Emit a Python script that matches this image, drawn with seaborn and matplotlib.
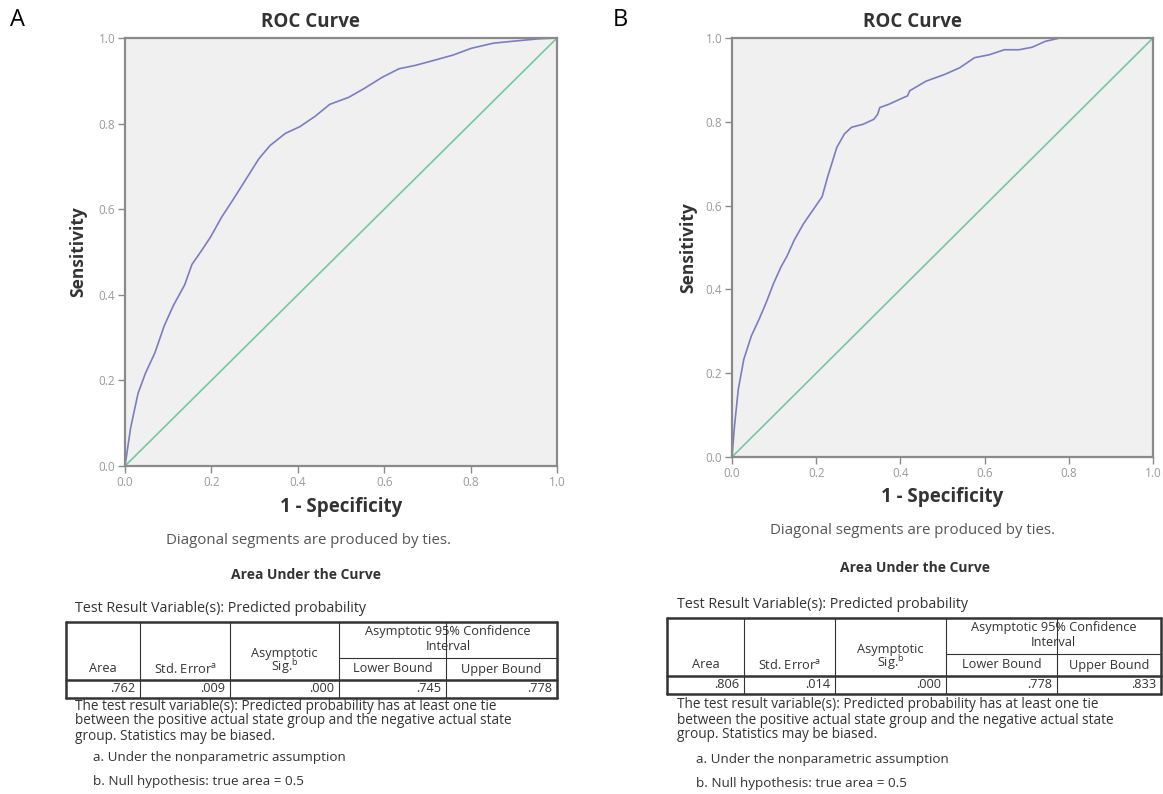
import matplotlib
matplotlib.use("Agg")
import matplotlib.pyplot as plt
import seaborn as sns
import pandas as pd

# %%
# ROC curve points (1 - specificity, sensitivity)
fpr_a = [0.0, 0.013, 0.03, 0.047, 0.069, 0.091, 0.112, 0.138, 0.155, 0.177, 0.198,
         0.224, 0.25, 0.28, 0.31, 0.336, 0.371, 0.405, 0.44, 0.474, 0.517, 0.552,
         0.595, 0.634, 0.672, 0.716, 0.759, 0.802, 0.853, 0.914, 0.957, 1.0]
tpr_a = [0.0, 0.089, 0.169, 0.216, 0.264, 0.328, 0.375, 0.423, 0.471, 0.503, 0.535,
         0.582, 0.622, 0.67, 0.718, 0.749, 0.777, 0.793, 0.817, 0.845, 0.861, 0.881,
         0.908, 0.928, 0.936, 0.948, 0.96, 0.976, 0.988, 0.994, 0.998, 1.0]

fpr_b = [0.0, 0.006, 0.015, 0.028, 0.046, 0.064, 0.081, 0.099, 0.117, 0.13, 0.148,
         0.17, 0.192, 0.214, 0.227, 0.249, 0.267, 0.284, 0.311, 0.337, 0.346, 0.351,
         0.373, 0.399, 0.417, 0.422, 0.461, 0.505, 0.541, 0.576, 0.611, 0.647,
         0.682, 0.713, 0.744, 0.779, 1.0]
tpr_b = [0.0, 0.075, 0.162, 0.233, 0.289, 0.328, 0.368, 0.415, 0.455, 0.478, 0.518,
         0.557, 0.589, 0.621, 0.668, 0.739, 0.771, 0.787, 0.794, 0.806, 0.818, 0.834,
         0.842, 0.854, 0.862, 0.874, 0.897, 0.913, 0.929, 0.953, 0.96, 0.972,
         0.972, 0.978, 0.992, 1.0, 1.0]

ref_line = [0.0, 1.0]

panel_labels = ["A", "B"]

# Area Under the Curve table values
auc_area = [".762", ".806"]
auc_std_err = [".009", ".014"]
auc_sig = [".000", ".000"]
auc_lower = [".745", ".778"]
auc_upper = [".778", ".833"]

tick_values = [0.0, 0.2, 0.4, 0.6, 0.8, 1.0]
tick_labels = ["0.0", "0.2", "0.4", "0.6", "0.8", "1.0"]

# %%
sns.set_theme(style="white")
plt.rcParams["font.family"] = ["Open Sans", "DejaVu Sans"]
plt.rcParams["mathtext.fontset"] = "custom"
plt.rcParams["mathtext.rm"] = "Open Sans"

W, H = 1163, 794
fig = plt.figure(figsize=(W / 100, H / 100), dpi=100)

curve_color = "#7b7dc2"
diag_color = "#72c9a0"
frame_color = "#8a8a8a"
text_color = "#333333"

# axes boxes in pixels: left, top, right, bottom
boxes = [(125, 38, 557, 466), (732, 38, 1153, 457)]
curves = [(fpr_a, tpr_a), (fpr_b, tpr_b)]

for (l, t, r, b), (fx, fy) in zip(boxes, curves):
    ax = fig.add_axes([l / W, 1 - b / H, (r - l) / W, (b - t) / H])
    ax.set_facecolor("#f0f0f0")
    df = pd.DataFrame({"fpr": fx, "tpr": fy})
    sns.lineplot(data=df, x="fpr", y="tpr", ax=ax, color=curve_color,
                 linewidth=1.2, estimator=None, sort=False)
    sns.lineplot(x=ref_line, y=ref_line, ax=ax, color=diag_color, linewidth=1.2)
    ax.set_xlim(0, 1)
    ax.set_ylim(0, 1)
    ax.set_xticks(tick_values)
    ax.set_yticks(tick_values)
    ax.set_xticklabels(tick_labels)
    ax.set_yticklabels(tick_labels)
    ax.tick_params(direction="out", length=5, width=1, color=frame_color,
                   labelsize=8.5, labelcolor="#9a9a9a", pad=2,
                   bottom=True, left=True)
    for s in ax.spines.values():
        s.set_color(frame_color)
        s.set_linewidth(1.6)
    ax.set_xlabel("")
    ax.set_ylabel("")

# overlay in pixel coordinates for all the text and the tables
ov = fig.add_axes([0, 0, 1, 1])
ov.set_xlim(0, W)
ov.set_ylim(H, 0)
ov.axis("off")
ov.patch.set_alpha(0)

# per-panel layout: axes box, table columns, table top, text anchors
layouts = [
    dict(box=boxes[0], cols=[66, 140, 230, 339, 446, 557], top=622,
         title_x=310, xlab_y=507, diag=(309, 540), aucti=(306, 575),
         test=(75, 608), foot_y=706, note_x=93, note_y=758, ylab_x=78,
         letter=(18, 20)),
    dict(box=boxes[1], cols=[667, 744, 835, 946, 1057, 1161], top=618,
         title_x=912, xlab_y=497, diag=(913, 530), aucti=(915, 568),
         test=(677, 604), foot_y=705, note_x=696, note_y=759, ylab_x=688,
         letter=(620, 20)),
]

for i, lay in enumerate(layouts):
    l, t, r, b = lay["box"]
    cx = (l + r) / 2

    ov.text(lay["letter"][0], lay["letter"][1], panel_labels[i], fontsize=17,
            ha="center", va="center", color="black")
    ov.text(lay["title_x"], 22, "ROC Curve", fontsize=13.5, fontweight="bold",
            ha="center", va="center", color=text_color)
    ov.text(lay["ylab_x"], (t + b) / 2, "Sensitivity", fontsize=12.5,
            fontweight="bold", rotation=90, ha="center", va="center",
            color=text_color)
    ov.text(cx, lay["xlab_y"], "1 - Specificity", fontsize=13.5,
            fontweight="bold", ha="center", va="center", color=text_color)
    ov.text(*lay["diag"], "Diagonal segments are produced by ties.", fontsize=10.8,
            ha="center", va="center", color="#555555")
    ov.text(*lay["aucti"], "Area Under the Curve", fontsize=10,
            fontweight="bold", ha="center", va="center", color=text_color)
    ov.text(*lay["test"], "Test Result Variable(s): Predicted probability",
            fontsize=10.3, ha="left", va="center", color=text_color)

    # table grid
    c = lay["cols"]
    top = lay["top"]
    mid = top + 36
    hb = top + 58
    rb = top + 76
    lw_thin = 0.8
    lw_thick = 1.8
    ov.plot([c[0], c[-1]], [top, top], color="#333333", lw=lw_thick)
    ov.plot([c[0], c[-1]], [rb, rb], color="#333333", lw=lw_thick)
    ov.plot([c[0], c[-1]], [hb, hb], color="#333333", lw=lw_thick)
    ov.plot([c[0], c[0]], [top, rb], color="#333333", lw=lw_thick)
    ov.plot([c[-1], c[-1]], [top, rb], color="#333333", lw=lw_thick)
    for xc in c[1:-1]:
        ov.plot([xc, xc], [top, rb], color="#333333", lw=lw_thin)
    ov.plot([c[3], c[-1]], [mid, mid], color="#333333", lw=lw_thin)

    hs = 9.2
    hy = top + 47
    ov.text((c[0] + c[1]) / 2, hy, "Area", fontsize=hs, ha="center",
            va="center", color=text_color)
    ov.text((c[1] + c[2]) / 2, hy, r"Std. Error$^{\mathrm{a}}$", fontsize=hs,
            ha="center", va="center", color=text_color)
    ov.text((c[2] + c[3]) / 2, top + 31, "Asymptotic", fontsize=hs,
            ha="center", va="center", color=text_color)
    ov.text((c[2] + c[3]) / 2, top + 45, r"Sig.$^{\mathrm{b}}$", fontsize=hs,
            ha="center", va="center", color=text_color)
    ov.text((c[3] + c[5]) / 2, top + 10, "Asymptotic 95% Confidence",
            fontsize=hs, ha="center", va="center", color=text_color)
    ov.text((c[3] + c[5]) / 2, top + 25, "Interval", fontsize=hs,
            ha="center", va="center", color=text_color)
    ov.text((c[3] + c[4]) / 2, hy, "Lower Bound", fontsize=hs, ha="center",
            va="center", color=text_color)
    ov.text((c[4] + c[5]) / 2, hy, "Upper Bound", fontsize=hs, ha="center",
            va="center", color=text_color)

    row_vals = [auc_area[i], auc_std_err[i], auc_sig[i], auc_lower[i], auc_upper[i]]
    vy = (hb + rb) / 2
    for k, v in enumerate(row_vals):
        ov.text(c[k + 1] - 5, vy, v, fontsize=hs, ha="right", va="center",
                color=text_color)

    foot = [
        "The test result variable(s): Predicted probability has at least one tie",
        "between the positive actual state group and the negative actual state",
        "group. Statistics may be biased.",
    ]
    for k, line in enumerate(foot):
        ov.text(lay["test"][0], lay["foot_y"] + k * 15, line, fontsize=9.8,
                ha="left", va="center", color=text_color)

    ov.text(lay["note_x"], lay["note_y"], "a. Under the nonparametric assumption",
            fontsize=9.7, ha="left", va="center", color=text_color)
    ov.text(lay["note_x"], lay["note_y"] + 24, "b. Null hypothesis: true area = 0.5",
            fontsize=9.7, ha="left", va="center", color=text_color)

plt.savefig("out.png", dpi=100)
